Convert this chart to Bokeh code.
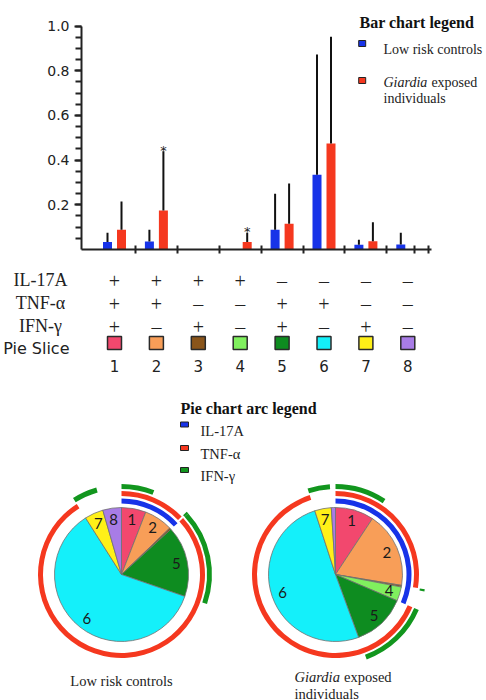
import numpy as np
from bokeh.plotting import figure
from bokeh.layouts import column
from bokeh.models import Range1d, FixedTicker, BasicTickFormatter
from bokeh.core.properties import value
from bokeh.embed import file_html
from bokeh.resources import INLINE

# ---------------- data ----------------
groups = [1, 2, 3, 4, 5, 6, 7, 8]
low_risk_mean = [0.033, 0.036, 0.0, 0.0, 0.088, 0.335, 0.021, 0.022]
low_risk_upper = [0.075, 0.088, 0.0, 0.0, 0.250, 0.873, 0.044, 0.075]
giardia_mean = [0.088, 0.175, 0.0, 0.033, 0.115, 0.474, 0.037, 0.0]
giardia_upper = [0.215, 0.440, 0.0, 0.075, 0.295, 0.952, 0.122, 0.0]
significant = [False, True, False, True, False, False, False, False]

y_ticks = [0.2, 0.4, 0.6, 0.8, 1.0]
y_tick_labels = ["0.2", "0.4", "0.6", "0.8", "1.0"]

cytokines = ["IL-17A", "TNF-α", "IFN-γ"]
il17a = ["+", "+", "+", "+", "–", "–", "–", "–"]
tnfa = ["+", "+", "–", "–", "+", "+", "–", "–"]
ifng = ["+", "–", "+", "–", "+", "–", "+", "–"]
slice_labels = ["1", "2", "3", "4", "5", "6", "7", "8"]
slice_colors = ["#F2486E", "#F89E58", "#8A551B", "#80F05E",
                "#0E8C20", "#14F0FA", "#FFF018", "#A87CE6"]

pie_low_risk = [0.059, 0.069, 0.004, 0.0, 0.171, 0.607, 0.045, 0.045]
pie_giardia = [0.093, 0.183, 0.004, 0.034, 0.130, 0.506, 0.040, 0.010]

BLUE = "#1733E8"
RED = "#F5381F"
GREEN = "#12961E"
arc_colors = [BLUE, RED, GREEN]
AX = "#222222"
SERIF = value("Liberation Serif")
SANS = value("DejaVu Sans")

# ---------------- layout helpers ----------------
PX = 41.9      # pixels per group
C1 = 114.0     # pixel of group 1 center


def gx(px):
    return 1 + (px - C1) / PX


A_BOTTOM = 249.0
A_SCALE = 223.5


def ya(py):
    return (A_BOTTOM - py) / A_SCALE


# ---------------- bar chart ----------------
pa = figure(width=486, height=262, x_range=Range1d(gx(81), gx(486)),
            y_range=Range1d(0, ya(0)), output_backend="svg", toolbar_location=None,
            min_border_left=81, min_border_right=0, min_border_top=0, min_border_bottom=13)
pa.frame_align = False
pa.outline_line_color = None
pa.xgrid.visible = False
pa.ygrid.visible = False
pa.background_fill_color = "white"

off = 7 / PX
bw = 9 / PX
xb = [g - off for g in groups]
xr = [g + off for g in groups]
pa.vbar(x=xb, top=low_risk_mean, width=bw, fill_color=BLUE, line_color=None)
pa.vbar(x=xr, top=giardia_mean, width=bw, fill_color=RED, line_color=None)

for xs, m, u in ((xb, low_risk_mean, low_risk_upper), (xr, giardia_mean, giardia_upper)):
    sx = [x for x, a, b in zip(xs, m, u) if b > a]
    s0 = [a for a, b in zip(m, u) if b > a]
    s1 = [b for a, b in zip(m, u) if b > a]
    pa.segment(x0=sx, y0=s0, x1=sx, y1=s1, line_width=2, line_color="#111111")

ax_ = [x for x, s in zip(xr, significant) if s]
ay_ = [u for u, s in zip(giardia_upper, significant) if s]
pa.text(x=ax_, y=ay_, text=["*"] * len(ax_), text_align="center", text_baseline="alphabetic",
        text_font=SANS, text_font_size="13px", text_color="#222222", y_offset=-1)

yax = pa.yaxis[0]
yax.ticker = FixedTicker(ticks=y_ticks, minor_ticks=[round(0.05 * i, 2) for i in range(1, 21)])
yax.formatter = BasicTickFormatter(precision=1)
yax.major_label_overrides = {t: l for t, l in zip(y_ticks, y_tick_labels)}
yax.bounds = (0, 1)
yax.axis_line_width = 2
yax.axis_line_color = AX
yax.major_tick_line_width = 2
yax.major_tick_line_color = AX
yax.minor_tick_line_width = 2
yax.minor_tick_line_color = AX
yax.major_tick_in = 0
yax.major_tick_out = 7
yax.minor_tick_in = 0
yax.minor_tick_out = 6
yax.major_label_standoff = 5
yax.major_label_text_font = "DejaVu Sans"
yax.major_label_text_font_size = "14px"
yax.major_label_text_color = AX

xax = pa.xaxis[0]
xax.ticker = FixedTicker(ticks=[1.5, 2.5, 3.5, 4.5, 5.5, 6.5, 7.5, 8.17, 8.5])
xax.bounds = (gx(81), gx(431))
xax.axis_line_width = 2
xax.axis_line_color = AX
xax.major_tick_line_width = 2
xax.major_tick_line_color = AX
xax.major_tick_in = 4
xax.major_tick_out = 4
xax.minor_tick_line_color = None
xax.major_label_text_font_size = "1px"
xax.major_label_text_alpha = 0
xax.major_label_standoff = 0

# bar chart legend
pa.text(x=[gx(359)], y=[ya(21.7)], text=["Bar chart legend"], text_font=SERIF,
        text_font_style="bold", text_font_size="16px", text_baseline="alphabetic", text_color="#111111")
pa.rect(x=[gx(361.7), gx(361.7)], y=[ya(43), ya(80)], width=7, height=6,
        width_units="screen", height_units="screen", fill_color=[BLUE, RED],
        line_color="#222222", line_width=1)
pa.text(x=[gx(383)], y=[ya(49)], text=["Low risk controls"], text_font=SERIF,
        text_font_size="14px", text_baseline="alphabetic", text_color="#222222")
pa.text(x=[gx(383)], y=[ya(82)], text=["Giardia"], text_font=SERIF, text_font_style="italic",
        text_font_size="14px", text_baseline="alphabetic", text_color="#222222")
pa.text(x=[gx(383 + 3.42 * 14)], y=[ya(82)], text=["exposed"], text_font=SERIF,
        text_font_size="14px", text_baseline="alphabetic", text_color="#222222")
pa.text(x=[gx(383)], y=[ya(98)], text=["individuals"], text_font=SERIF,
        text_font_size="14px", text_baseline="alphabetic", text_color="#222222")

# ---------------- table + pies ----------------
pb = figure(width=486, height=438, x_range=Range1d(gx(0), gx(486)), y_range=Range1d(700, 262),
            x_axis_location=None, y_axis_location=None, min_border=0,
            min_border_left=0, min_border_right=0, min_border_top=0, min_border_bottom=0,
            output_backend="svg", toolbar_location=None)
pb.frame_align = False
pb.outline_line_color = None
pb.xgrid.visible = False
pb.ygrid.visible = False

row_base = [279.5, 302.5, 325.5]
for name, signs, yb in zip(cytokines, [il17a, tnfa, ifng], row_base):
    pb.text(x=[gx(40)], y=[yb], text=[name], text_font=SERIF, text_font_size="18px",
            text_align="center", text_baseline="alphabetic", text_color="#222222")
    pb.text(x=groups, y=[yb + 0.5] * len(groups), text=signs, text_font=SERIF, text_font_size="20px",
            text_align="center", text_baseline="alphabetic", text_color="#222222")

pb.text(x=[gx(69)], y=[348], text=["Pie Slice"], text_font=SANS, text_font_size="16px",
        text_align="right", text_baseline="alphabetic", text_color="#222222")
pb.rect(x=groups, y=[342.5] * len(groups), width=14, height=13, width_units="screen",
        height_units="screen", fill_color=slice_colors, line_color="#2a2a2a", line_width=1.5)
pb.text(x=groups, y=[365] * len(groups), text=slice_labels, text_font=SANS, text_font_size="15px",
        text_align="center", text_baseline="alphabetic", text_color="#222222")

# pie arc legend
pb.text(x=[gx(180)], y=[408], text=["Pie chart arc legend"], text_font=SERIF,
        text_font_style="bold", text_font_size="16px", text_baseline="alphabetic", text_color="#111111")
pb.rect(x=[gx(184)] * 3, y=[424, 447.5, 469.5], width=8, height=5, width_units="screen",
        height_units="screen", fill_color=arc_colors, line_color="#222222", line_width=1)
pb.text(x=[gx(200)] * 3, y=[430, 453, 475], text=cytokines, text_font=SERIF,
        text_font_size="14.5px", text_baseline="alphabetic", text_color="#222222")

arc_radii = [73.5, 81.0, 88.0]
R = 67


def draw_pie(cx_px, cy, fracs):
    fr = np.array(fracs, dtype=float)
    cum = np.concatenate([[0.0], np.cumsum(fr)])
    starts = np.deg2rad(90 - 360 * cum[:-1])
    ends = np.deg2rad(90 - 360 * cum[1:])
    keep = fr > 0
    xc = gx(cx_px)
    pb.wedge(x=[xc] * int(keep.sum()), y=[cy] * int(keep.sum()), radius=R, radius_units="screen",
             start_angle=list(starts[keep]), end_angle=list(ends[keep]), direction="clock",
             fill_color=[c for c, k in zip(slice_colors, keep) if k],
             line_color="#707070", line_width=0.8)
    # arcs for each cytokine: contiguous runs of positive slices
    for signs, r, col in zip([il17a, tnfa, ifng], arc_radii, arc_colors):
        runs = []
        cur = None
        for i, s in enumerate(signs):
            if s == "+":
                if cur is None:
                    cur = [i, i]
                else:
                    cur[1] = i
            else:
                if cur is not None:
                    runs.append(cur)
                    cur = None
        if cur is not None:
            runs.append(cur)
        rs = [(a, b) for a, b in runs if cum[b + 1] - cum[a] > 0]
        if rs:
            pb.annular_wedge(x=[xc] * len(rs), y=[cy] * len(rs),
                             inner_radius=r - 2.5, outer_radius=r + 2.5,
                             inner_radius_units="screen", outer_radius_units="screen",
                             start_angle=[np.deg2rad(90 - 360 * cum[a]) for a, b in rs],
                             end_angle=[np.deg2rad(90 - 360 * cum[b + 1]) for a, b in rs],
                             direction="clock", fill_color=col, line_color=None)
    # slice number labels
    mids = (cum[:-1] + cum[1:]) / 2 * 2 * np.pi
    show = fr > 0.02
    lr = 56
    lx = [gx(cx_px + lr * np.sin(m)) for m, s in zip(mids, show) if s]
    ly = [cy - lr * np.cos(m) for m, s in zip(mids, show) if s]
    lt = [t for t, s in zip(slice_labels, show) if s]
    pb.text(x=lx, y=ly, text=lt, text_font=value("Lato"), text_font_size="15px",
            text_align="center", text_baseline="middle", text_color="#1a1a1a")


draw_pie(121, 574, pie_low_risk)
draw_pie(335, 574, pie_giardia)

pb.text(x=[gx(121)], y=[680], text=["Low risk controls"], text_font=SERIF, text_font_size="14.5px",
        text_align="center", text_baseline="alphabetic", text_color="#222222")
pb.text(x=[gx(294)], y=[676], text=["Giardia"], text_font=SERIF, text_font_style="italic",
        text_font_size="14.5px", text_baseline="alphabetic", text_color="#222222")
pb.text(x=[gx(294 + 3.42 * 14.5)], y=[676], text=["exposed"], text_font=SERIF,
        text_font_size="14.5px", text_baseline="alphabetic", text_color="#222222")
pb.text(x=[gx(294)], y=[693], text=["individuals"], text_font=SERIF, text_font_size="14.5px",
        text_baseline="alphabetic", text_color="#222222")

layout = column(pa, pb, spacing=0)
open("out.html", "w").write(file_html(layout, INLINE))
